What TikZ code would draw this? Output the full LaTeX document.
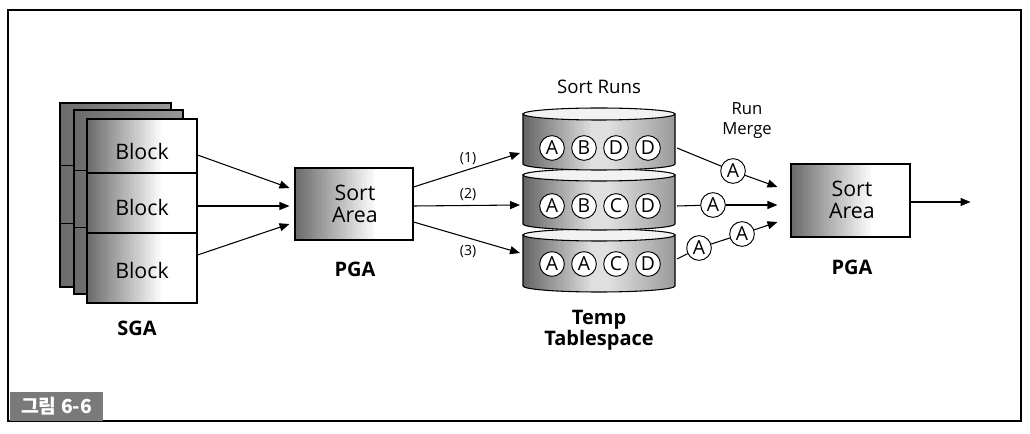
\documentclass[tikz,border=0pt]{standalone}
\usepackage{fontspec}
\setmainfont{Open Sans}
\newfontfamily\krfont{Noto Sans CJK KR}
\usetikzlibrary{arrows.meta,calc}
\newcommand\gradstrips[1]{%
  \foreach \i in {0,...,49}{%
    \pgfmathsetmacro\ff{\i/50}%
    \pgfmathsetmacro\gg{(\i+1.5)/50}%
    \pgfmathsetmacro\vv{#1}%
    \fill[black!\vv] ($(path picture bounding box.south west)!\ff!(path picture bounding box.south east)$) rectangle ($(path picture bounding box.north west)!\gg!(path picture bounding box.north east)$);
  }}
\tikzset{
  pagebox/.style={draw, line width=0.8pt, fill=white, inner sep=0pt, path picture={\gradstrips{max(0,58*(1-\ff/0.68))}}},
  backbox/.style={draw, line width=0.8pt, fill=white, inner sep=0pt, path picture={\gradstrips{58-18*\ff}}},
  blocktext/.style={font=\fontsize{16}{18}\selectfont},
  boldlbl/.style={font=\bfseries\fontsize{15}{16}\selectfont, align=center},
  arealbl/.style={font=\fontsize{16}{16.5}\selectfont, align=center},
  toplbl/.style={font=\fontsize{12.5}{15}\selectfont, align=center},
  runlbl/.style={font=\fontsize{14}{15}\selectfont},
  numlbl/.style={font=\fontsize{10.5}{12}\selectfont},
  rec/.style={circle, draw, line width=0.7pt, fill=white, inner sep=0pt, minimum size=18.5pt, font=\fontsize{14.5}{14.5}\selectfont},
  arr/.style={draw, line width=0.8pt, -{Triangle[length=7.5pt,width=6pt]}},
  ln/.style={draw, line width=0.8pt},
  diskbody/.style={draw, line width=0.8pt, fill=white, path picture={\gradstrips{\ff<0.45 ? 60-48*\ff/0.45 : (\ff<0.55 ? 12 : 12+28*(\ff-0.55)/0.45)}}},
  disktop/.style={draw, line width=0.8pt, fill=black!5},
}
\begin{document}
\begin{tikzpicture}[x=0.75pt,y=-0.75pt]
\useasboundingbox (0,0) rectangle (1030,434);
% frame
\draw[line width=1.1pt] (8,10) rectangle (1021,421);
\node[fill=black!52, minimum width=69.75pt, minimum height=21.75pt, inner sep=0pt, text=white, font=\krfont\bfseries\fontsize{14.5}{15}\selectfont] (fig) at (56.5,406.5) {그림 6-6};

% SGA pages
\node[backbox, minimum width=83.25pt, minimum height=138pt] (pg1) at (115.5,195) {};
\draw[line width=0.6pt] (60,165) -- (171,165) (60,223) -- (171,223);
\node[backbox, minimum width=81.75pt, minimum height=138pt] (pg2) at (128.5,202) {};
\draw[line width=0.6pt] (74,170) -- (183,170) (74,227) -- (183,227);
\node[pagebox, minimum width=82.5pt, minimum height=40.5pt] (blk1) at (142,146) {};
\node[pagebox, minimum width=82.5pt, minimum height=45pt] (blk2) at (142,203) {};
\node[pagebox, minimum width=82.5pt, minimum height=52.5pt] (blk3) at (142,268) {};
\node[blocktext] (bt1) at (142,152) {Block};
\node[blocktext] (bt2) at (142,208) {Block};
\node[blocktext] (bt3) at (142,270) {Block};
\node[boldlbl] (sga) at (137,328) {SGA};

% PGA 1
\node[pagebox, minimum width=88.5pt, minimum height=54pt] (sa1) at (354,204) {};
\node[arealbl] (sa1t) at (355,204) {Sort\\Area};
\node[boldlbl] (pga1) at (355,269) {PGA};

\draw[arr] ($(blk1.east)+(0,9)$) -- ($(sa1.west)+(-5,-16)$);
\draw[arr] ($(blk2.east)+(0,3)$) -- ($(sa1.west)+(-5,2)$);
\draw[arr] ($(blk3.east)+(0,-13)$) -- ($(sa1.west)+(-5,20)$);

% disks (bottom to top)
\foreach \t/\b in {235/286, 175/224, 114/164}{
  \path[diskbody] (523,\t) -- (523,\b) arc[start angle=180, end angle=360, x radius=57pt, y radius=4.5pt] -- (675,\t) -- cycle;
  \path[disktop] (599,\t) ellipse[x radius=57pt, y radius=4.5pt];
}
\coordinate (d1w) at (523,139);
\coordinate (d2w) at (523,199);
\coordinate (d3w) at (523,260);
\coordinate (d1e) at (675,139);
\coordinate (d2e) at (675,199);
\coordinate (d3e) at (675,260);

\node[runlbl] (sr) at (599,87) {Sort Runs};
\node[boldlbl] (tt) at (599,330) {Temp\\Tablespace};

% records
\node[rec] (r11) at (552,148) {A};
\node[rec] (r12) at (584,148) {B};
\node[rec] (r13) at (616,148) {D};
\node[rec] (r14) at (648,148) {D};
\node[rec] (r21) at (552,206) {A};
\node[rec] (r22) at (584,206) {B};
\node[rec] (r23) at (616,206) {C};
\node[rec] (r24) at (648,206) {D};
\node[rec] (r31) at (552,264) {A};
\node[rec] (r32) at (584,264) {A};
\node[rec] (r33) at (616,264) {C};
\node[rec] (r34) at (648,264) {D};

% PGA 1 -> disks
\draw[arr] ($(sa1.east)+(0,-17)$) -- ($(d1w)+(-3,14)$);
\draw[arr] ($(sa1.east)+(0,2)$) -- ($(d2w)+(-3,6)$);
\draw[arr] ($(sa1.east)+(0,18)$) -- ($(d3w)+(-3,-7)$);
\node[numlbl] (n1) at (468,159) {(1)};
\node[numlbl] (n2) at (468,195) {(2)};
\node[numlbl] (n3) at (468,252) {(3)};

% PGA 2
\node[pagebox, minimum width=89.25pt, minimum height=54.75pt] (sa2) at (850.5,200.5) {};
\node[arealbl] (sa2t) at (852,200) {Sort\\Area};
\node[boldlbl] (pga2) at (852,267) {PGA};
\node[toplbl] (rm) at (747,121) {Run\\Merge};

% merge
\node[rec] (m1) at (733,171) {A};
\node[rec] (m2) at (713,205) {A};
\node[rec] (m3a) at (699,248) {A};
\node[rec] (m3b) at (742,234) {A};
\draw[ln] ($(d1e)+(2,9)$) -- (m1);
\draw[arr] (m1) -- ($(sa2.west)+(-13,-13.5)$);
\draw[ln] ($(d2e)+(2,7)$) -- (m2);
\draw[arr] (m2) -- ($(sa2.west)+(-13,4.5)$);
\draw[ln] ($(d3e)+(2,-1)$) -- (m3a);
\draw[ln] (m3a) -- (m3b);
\draw[arr] (m3b) -- ($(sa2.west)+(-13,21.5)$);

\draw[arr] ($(sa2.east)+(0,1.5)$) -- ($(sa2.east)+(60,1.5)$);
\end{tikzpicture}
\end{document}
